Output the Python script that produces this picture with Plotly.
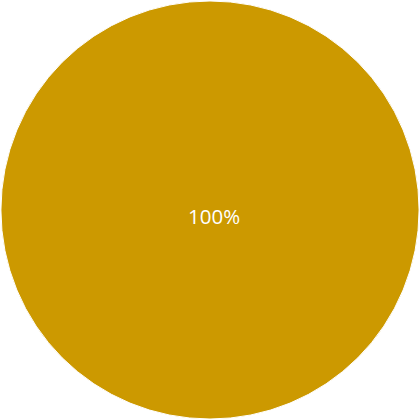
import plotly.graph_objects as go

labels = ["Category A"]
values = [100]
colors = ["#CC9900"]

share = values[0] / sum(values)

fig = go.Figure(go.Pie(
    labels=labels,
    values=values,
    marker=dict(colors=colors, line=dict(color="white", width=1)),
    textinfo="none",
    sort=False,
    showlegend=False,
    hoverinfo="label+percent",
))

# label placed by hand: the reference sits it a little right of / below centre
fig.add_annotation(
    text=f"{share:.0%}",
    x=0.5096, y=0.486, xref="paper", yref="paper",
    showarrow=False,
    font=dict(color="white", size=20.5, family="Open Sans"),
)

fig.update_layout(
    width=420, height=420,
    margin=dict(t=1, b=1, l=1, r=1),
    paper_bgcolor="white",
    plot_bgcolor="white",
)

# drop the page's default body margin so the chart sits at the window edge
fig.write_html("out.html", config={"displayModeBar": False},
               post_script="document.body.style.margin='0';")
